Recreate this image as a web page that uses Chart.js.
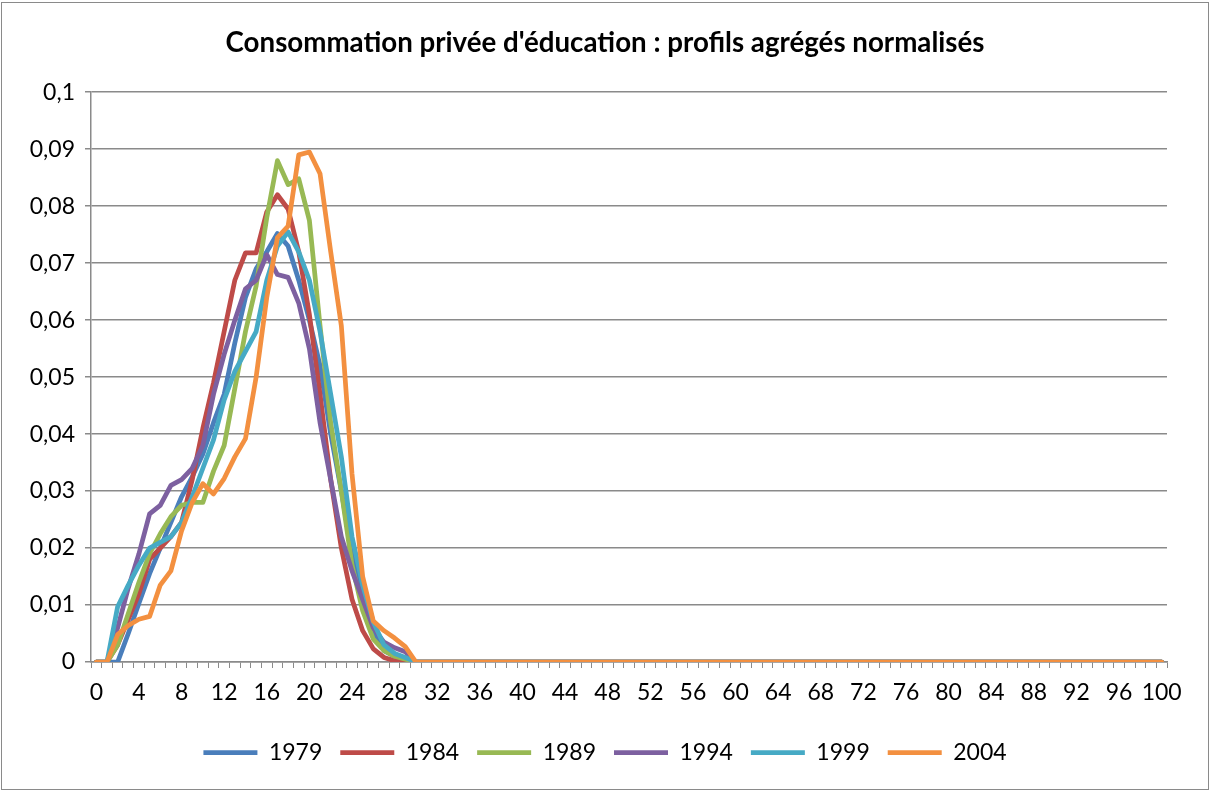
<!DOCTYPE html>
<html>
<head>
<meta charset="utf-8">
<script src="https://cdn.jsdelivr.net/npm/chart.js@4"></script>
<style>
  body { margin: 0; background: #fff; }
  canvas { display: block; }
</style>
</head>
<body>
<canvas id="eduChart" width="1210" height="792"></canvas>
<script>
// ages 0..100
const ages = [0,1,2,3,4,5,6,7,8,9,10,11,12,13,14,15,16,17,18,19,20,21,22,23,24,25,26,27,28,29,30,
  31,32,33,34,35,36,37,38,39,40,41,42,43,44,45,46,47,48,49,50,51,52,53,54,55,56,57,58,59,60,
  61,62,63,64,65,66,67,68,69,70,71,72,73,74,75,76,77,78,79,80,81,82,83,84,85,86,87,88,89,90,
  91,92,93,94,95,96,97,98,99,100];

// values, ages 0..30
const y1979 = [0,0,0,0.005,0.0103,0.0155,0.02,0.0245,0.029,0.0325,0.0365,0.042,0.047,0.056,0.064,0.069,0.072,0.0752,0.073,0.067,0.06,0.052,0.04,0.03,0.019,0.011,0.005,0.002,0.001,0.0005,0];
const y1984 = [0,0,0.003,0.0075,0.012,0.018,0.02,0.022,0.0245,0.032,0.041,0.049,0.058,0.067,0.0718,0.0718,0.079,0.082,0.0795,0.072,0.061,0.047,0.032,0.02,0.011,0.0055,0.0023,0.0008,0.0002,0,0];
const y1989 = [0,0,0.003,0.0085,0.014,0.019,0.0225,0.0255,0.0275,0.028,0.028,0.0335,0.038,0.048,0.058,0.066,0.078,0.088,0.0838,0.0848,0.0775,0.059,0.042,0.03,0.017,0.009,0.004,0.002,0.001,0.0005,0];
const y1994 = [0,0,0.006,0.013,0.019,0.026,0.0275,0.031,0.032,0.034,0.038,0.047,0.054,0.06,0.0655,0.067,0.0715,0.068,0.0675,0.063,0.055,0.042,0.032,0.022,0.016,0.011,0.006,0.0035,0.0025,0.0018,0];
const y1999 = [0,0,0.0097,0.0135,0.017,0.02,0.021,0.022,0.0245,0.029,0.034,0.039,0.046,0.051,0.0545,0.058,0.067,0.073,0.0755,0.072,0.067,0.058,0.047,0.036,0.022,0.0135,0.007,0.003,0.0015,0.0008,0];
const y2004 = [0,0,0.0048,0.0064,0.0075,0.008,0.0135,0.016,0.023,0.028,0.0313,0.0295,0.0322,0.036,0.0392,0.05,0.064,0.0745,0.0765,0.089,0.0895,0.0857,0.072,0.059,0.033,0.015,0.0072,0.0055,0.0042,0.0027,0];
// ages 31..100 are all flat at 0
const zeros31to100 = [0,0,0,0,0,0,0,0,0,0, 0,0,0,0,0,0,0,0,0,0, 0,0,0,0,0,0,0,0,0,0, 0,0,0,0,0,0,0,0,0,0,
  0,0,0,0,0,0,0,0,0,0, 0,0,0,0,0,0,0,0,0,0, 0,0,0,0,0,0,0,0,0,0];

const years = ['1979', '1984', '1989', '1994', '1999', '2004'];
const colors = ['#4A7EBB', '#BE4B48', '#98B954', '#7D60A0', '#46AAC5', '#F39040'];
const yTicks = [0, 0.01, 0.02, 0.03, 0.04, 0.05, 0.06, 0.07, 0.08, 0.09, 0.1];

Chart.defaults.font.family = 'Lato, "Noto Sans", sans-serif';
Chart.defaults.color = '#000';

const frame = {
  id: 'frame',
  beforeDraw(chart) {
    const c = chart.ctx;
    c.save();
    c.fillStyle = '#fff';
    c.fillRect(0, 0, chart.width, chart.height);
    c.strokeStyle = '#8a8a8a';
    c.lineWidth = 1;
    c.strokeRect(1.5, 2.5, 1207, 787);
    c.restore();
  }
};

const series = [y1979, y1984, y1989, y1994, y1999, y2004];
const ctx = document.getElementById('eduChart').getContext('2d');
new Chart(ctx, {
  type: 'line',
  data: {
    labels: ages,
    datasets: series.map((s, i) => ({
      label: years[i],
      data: s.concat(zeros31to100),
      borderColor: colors[i],
      backgroundColor: colors[i],
      borderWidth: 4.75,
      borderCapStyle: 'round',
      borderJoinStyle: 'round',
      pointRadius: 0,
      tension: 0,
      fill: false,
      order: series.length - i
    }))
  },
  options: {
    responsive: false,
    animation: false,
    layout: { padding: { left: 0, right: 0, top: 0, bottom: 18 } },
    plugins: {
      title: {
        display: true,
        text: "Consommation privée d'éducation : profils agrégés normalisés",
        font: { size: 27.7, weight: 'bold' },
        padding: { top: 26, bottom: 33 }
      },
      legend: {
        position: 'bottom',
        labels: {
          usePointStyle: true,
          pointStyle: 'line',
          pointStyleWidth: 54,
          padding: 18,
          font: { size: 23 },
          sort: (a, b) => a.datasetIndex - b.datasetIndex
        }
      },
      tooltip: { enabled: false }
    },
    scales: {
      x: {
        type: 'category',
        offset: true,
        grid: { offset: true, drawOnChartArea: false, drawTicks: true, tickLength: 6, color: '#8a8a8a' },
        border: { color: '#8a8a8a', width: 1.5 },
        ticks: {
          autoSkip: false,
          maxRotation: 0,
          padding: 11,
          font: { size: 23 },
          callback: (v, i) => (i % 4 === 0 ? String(ages[i]) : '')
        },
        afterFit: (s) => { s.height = 61; }
      },
      y: {
        min: 0,
        max: 0.1,
        afterBuildTicks: (s) => { s.ticks = yTicks.map(v => ({ value: v })); },
        grid: { color: '#8a8a8a', lineWidth: 1.5, tickLength: 6 },
        border: { color: '#8a8a8a', width: 1.5 },
        ticks: {
          padding: 10,
          font: { size: 23 },
          callback: (v) => (v === 0 ? '0' : String(+v.toFixed(2)).replace('.', ','))
        },
        afterFit: (s) => { s.width = 91; }
      },
      // empty right margin so the title and legend centre on the full width
      yRight: {
        position: 'right',
        min: 0,
        max: 0.1,
        grid: { display: false },
        border: { display: false },
        ticks: { display: false },
        afterFit: (s) => { s.width = 43; }
      }
    }
  },
  plugins: [frame]
});
</script>
</body>
</html>
